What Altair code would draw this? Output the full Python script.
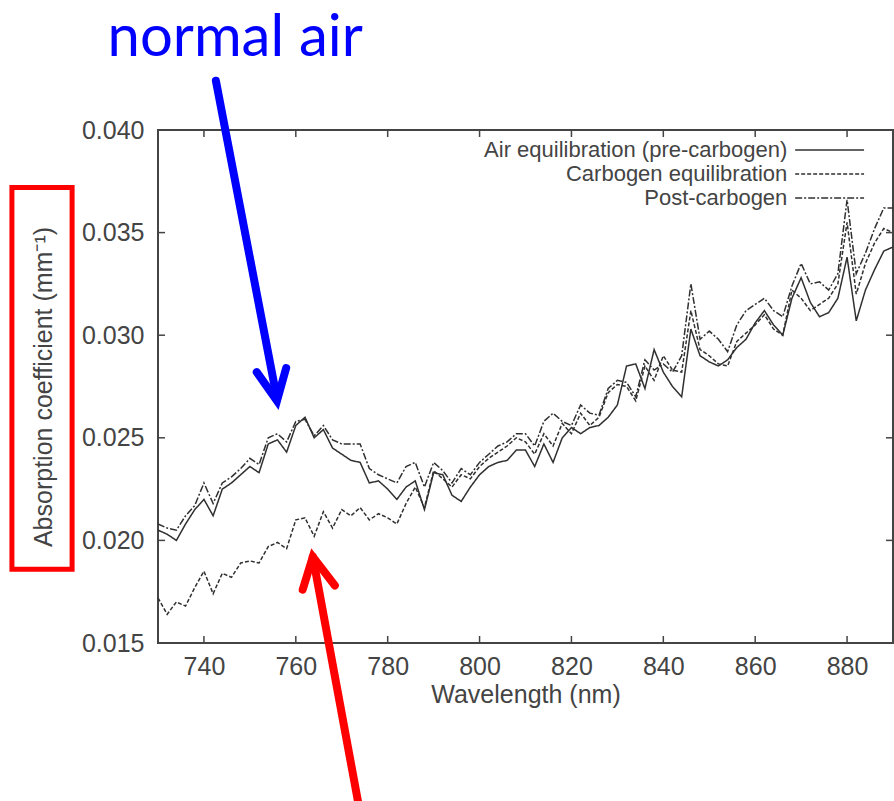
import altair as alt
import pandas as pd

wavelength = list(range(730, 892, 2))

air = [0.0205, 0.0203, 0.0200, 0.0208, 0.0215, 0.0220, 0.0212, 0.0225, 0.0228, 0.0232,
       0.0236, 0.0233, 0.0247, 0.0249, 0.0243, 0.0256, 0.0260, 0.0250, 0.0254, 0.0245,
       0.0242, 0.0239, 0.0238, 0.0228, 0.0229, 0.0225, 0.0220, 0.0226, 0.0229, 0.0215,
       0.0233, 0.0232, 0.0222, 0.0219, 0.0226, 0.0232, 0.0236, 0.0238, 0.0239, 0.0244,
       0.0244, 0.0236, 0.0247, 0.0238, 0.0250, 0.0255, 0.0252, 0.0255, 0.0256, 0.0260,
       0.0266, 0.0285, 0.0286, 0.0274, 0.0293, 0.0282, 0.0275, 0.0270, 0.0303, 0.0290,
       0.0287, 0.0285, 0.0288, 0.0294, 0.0298, 0.0306, 0.0312, 0.0305, 0.0300, 0.0318,
       0.0328, 0.0316, 0.0309, 0.0311, 0.0318, 0.0338, 0.0307, 0.0322, 0.0332, 0.0341,
       0.0343]

carbogen = [0.0172, 0.0164, 0.0170, 0.0168, 0.0177, 0.0185, 0.0174, 0.0184, 0.0182, 0.0189,
            0.0190, 0.0189, 0.0197, 0.0199, 0.0196, 0.0210, 0.0211, 0.0202, 0.0214, 0.0206,
            0.0215, 0.0212, 0.0216, 0.0210, 0.0213, 0.0211, 0.0208, 0.0218, 0.0226, 0.0216,
            0.0234, 0.0230, 0.0226, 0.0232, 0.0230, 0.0236, 0.0240, 0.0243, 0.0246, 0.0250,
            0.0248, 0.0242, 0.0252, 0.0246, 0.0257, 0.0252, 0.0262, 0.0256, 0.0260, 0.0272,
            0.0276, 0.0275, 0.0268, 0.0285, 0.0278, 0.0290, 0.0283, 0.0282, 0.0312, 0.0293,
            0.0290, 0.0286, 0.0285, 0.0297, 0.0301, 0.0305, 0.0310, 0.0303, 0.0300, 0.0322,
            0.0318, 0.0312, 0.0315, 0.0318, 0.0325, 0.0355, 0.0320, 0.0335, 0.0345, 0.0352,
            0.0350]

post = [0.0208, 0.0206, 0.0205, 0.0212, 0.0217, 0.0228, 0.0218, 0.0228, 0.0231, 0.0235,
        0.0240, 0.0237, 0.0250, 0.0252, 0.0248, 0.0258, 0.0259, 0.0251, 0.0256, 0.0249,
        0.0247, 0.0247, 0.0247, 0.0235, 0.0232, 0.0230, 0.0228, 0.0236, 0.0238, 0.0226,
        0.0238, 0.0234, 0.0228, 0.0235, 0.0232, 0.0238, 0.0242, 0.0246, 0.0248, 0.0252,
        0.0252, 0.0246, 0.0258, 0.0262, 0.0258, 0.0256, 0.0266, 0.0262, 0.0261, 0.0274,
        0.0278, 0.0277, 0.0270, 0.0288, 0.0283, 0.0286, 0.0282, 0.0290, 0.0325, 0.0298,
        0.0302, 0.0298, 0.0292, 0.0305, 0.0312, 0.0315, 0.0318, 0.0312, 0.0309, 0.0324,
        0.0335, 0.0325, 0.0326, 0.0322, 0.0330, 0.0366, 0.0330, 0.0340, 0.0352, 0.0362,
        0.0362]

series_names = ["Air equilibration (pre-carbogen)", "Carbogen equilibration", "Post-carbogen"]
series_dash = [[1, 0], [4, 2], [7, 2, 2, 2]]

x_ticks = [740, 760, 780, 800, 820, 840, 860, 880]
y_ticks = [0.015, 0.020, 0.025, 0.030, 0.035, 0.040]

# annotation geometry in data units (wavelength nm, absorption mm^-1)
blue_shaft_x = [742.6, 755.9]
blue_shaft_y = [0.0424, 0.0269]
blue_head_x = [751.5, 755.9, 757.9]
blue_head_y = [0.0282, 0.0268, 0.0284]
red_shaft_x = [773.6, 763.7]
red_shaft_y = [0.0072, 0.0192]
red_head_x = [761.5, 763.7, 768.5]
red_head_y = [0.0176, 0.0192, 0.0178]
box_x = [698.2, 711.3]
box_y = [0.0186, 0.0372]
label_pos = [746.8, 0.04362]

legend_text_x = 867.0
legend_line_x = [868.7, 883.7]
legend_y = [0.03903, 0.03786, 0.03669]

W, H = 735, 513
FONT = "Liberation Sans"
GRAY = "#444444"

rows = []
for name, vals in zip(series_names, [air, carbogen, post]):
    for w, v in zip(wavelength, vals):
        rows.append({"wavelength": w, "absorption": v, "series": name})
df = pd.DataFrame(rows)

xs = alt.Scale(domain=[730, 890], nice=False, zero=False)
ys = alt.Scale(domain=[0.015, 0.040], nice=False, zero=False)
dash_scale = alt.Scale(domain=series_names, range=series_dash)

lines = alt.Chart(df).mark_line(color="#303030", strokeWidth=1.5).encode(
    x=alt.X("wavelength:Q", scale=xs,
            axis=alt.Axis(values=x_ticks, format="d", title="Wavelength (nm)",
                          labelPadding=11, titlePadding=3)),
    y=alt.Y("absorption:Q", scale=ys,
            axis=alt.Axis(values=y_ticks, format=".3f", title="Absorption coefficient (mm⁻¹)",
                          labelPadding=14, titlePadding=25)),
    strokeDash=alt.StrokeDash("series:N", scale=dash_scale, legend=None),
    detail="series:N",
)

xt = pd.DataFrame({"t": x_ticks})
yt = pd.DataFrame({"t": y_ticks})
tick_style = dict(color=GRAY, strokeWidth=1.5)
xtick_bot = alt.Chart(xt).mark_rule(**tick_style).encode(
    x=alt.X("t:Q", scale=xs), y=alt.value(H), y2=alt.value(H - 7))
xtick_top = alt.Chart(xt).mark_rule(**tick_style).encode(
    x=alt.X("t:Q", scale=xs), y=alt.value(0), y2=alt.value(7))
ytick_l = alt.Chart(yt).mark_rule(**tick_style).encode(
    y=alt.Y("t:Q", scale=ys), x=alt.value(0), x2=alt.value(7))
ytick_r = alt.Chart(yt).mark_rule(**tick_style).encode(
    y=alt.Y("t:Q", scale=ys), x=alt.value(W), x2=alt.value(W - 7))

# legend (labels left, line samples right)
leg = pd.DataFrame({"series": series_names, "ly": legend_y,
                    "tx": [legend_text_x] * 3,
                    "x1": [legend_line_x[0]] * 3, "x2": [legend_line_x[1]] * 3})
leg_text = alt.Chart(leg).mark_text(align="right", baseline="middle", font=FONT,
                                    fontSize=22, color=GRAY).encode(
    x=alt.X("tx:Q", scale=xs), y=alt.Y("ly:Q", scale=ys), text="series:N")
leg_lines = alt.Chart(leg).mark_rule(color="#303030", strokeWidth=1.5).encode(
    x=alt.X("x1:Q", scale=xs), x2="x2:Q", y=alt.Y("ly:Q", scale=ys),
    strokeDash=alt.StrokeDash("series:N", scale=dash_scale, legend=None))

# annotations
def path_df(px, py, name):
    return pd.DataFrame({"ax": px, "ay": py, "o": list(range(len(px))), "p": [name] * len(px)})

blue_df = pd.concat([path_df(blue_shaft_x, blue_shaft_y, "s"), path_df(blue_head_x, blue_head_y, "h")])
red_df = pd.concat([path_df(red_shaft_x, red_shaft_y, "s"), path_df(red_head_x, red_head_y, "h")])

blue_arrow = alt.Chart(blue_df).mark_line(color="#0000FF", strokeWidth=8, strokeCap="round",
                                          strokeJoin="miter").encode(
    x=alt.X("ax:Q", scale=xs), y=alt.Y("ay:Q", scale=ys), detail="p:N", order="o:Q")
red_arrow = alt.Chart(red_df).mark_line(color="#FF0000", strokeWidth=8, strokeCap="round",
                                        strokeJoin="miter").encode(
    x=alt.X("ax:Q", scale=xs), y=alt.Y("ay:Q", scale=ys), detail="p:N", order="o:Q")

box = alt.Chart(pd.DataFrame({"x1": [box_x[0]], "x2": [box_x[1]],
                              "y1": [box_y[0]], "y2": [box_y[1]]})).mark_rect(
    fill=None, stroke="#FF0000", strokeWidth=5).encode(
    x=alt.X("x1:Q", scale=xs), x2="x2:Q", y=alt.Y("y1:Q", scale=ys), y2="y2:Q")

label = alt.Chart(pd.DataFrame({"lx": [label_pos[0]], "ly": [label_pos[1]],
                                "txt": ["normal air"]})).mark_text(
    font="Lato", fontSize=58, color="#0000FF", align="center", baseline="alphabetic").encode(
    x=alt.X("lx:Q", scale=xs), y=alt.Y("ly:Q", scale=ys), text="txt:N")

chart = alt.layer(
    lines, xtick_bot, xtick_top, ytick_l, ytick_r, leg_text, leg_lines,
    box, blue_arrow, red_arrow, label
).properties(
    width=W, height=H,
    autosize=alt.AutoSizeParams(type="none"),
    padding={"left": 158, "top": 130, "right": 1, "bottom": 158},
).configure_view(
    stroke=GRAY, strokeWidth=2
).configure_axis(
    grid=False, domain=False, ticks=False,
    labelFont=FONT, labelFontSize=25, labelColor=GRAY,
    titleFont=FONT, titleFontSize=25, titleColor=GRAY, titleFontWeight="normal",
)

chart.save("out.html", embed_options={"renderer": "svg", "actions": False})
